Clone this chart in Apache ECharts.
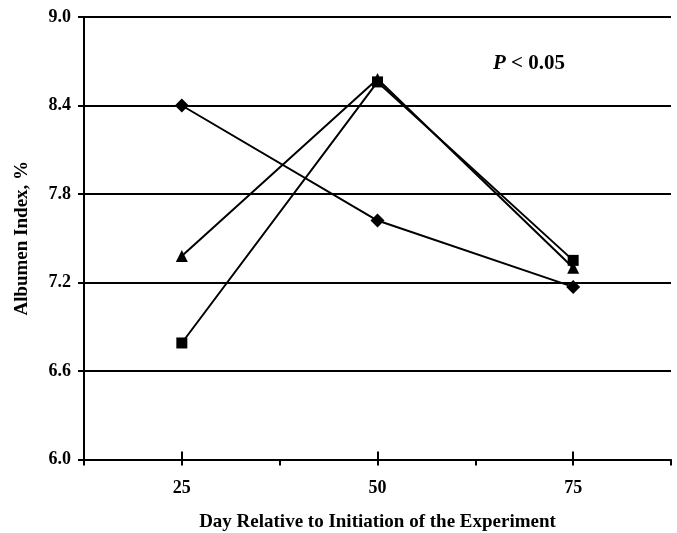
<!DOCTYPE html>
<html>
<head>
<meta charset="utf-8">
<script src="https://cdn.jsdelivr.net/npm/echarts@6/dist/echarts.min.js"></script>
<style>html,body{margin:0;padding:0;background:#fff;}#c{width:677px;height:533px;}</style>
</head>
<body>
<div id="c"></div>
<script>
const categories = ['25', '50', '75'];
const diamondValues = [8.40, 7.62, 7.17];
const squareValues = [6.79, 8.56, 7.35];
const triangleValues = [7.38, 8.58, 7.30];
const yTicks = { min: 6.0, max: 9.0, interval: 0.6 };
const xTitle = 'Day Relative to Initiation of the Experiment';
const yTitle = 'Albumen Index, %';

const FONT = '"Liberation Serif", "Times New Roman", serif';
const chart = echarts.init(document.getElementById('c'), null, { renderer: 'canvas' });

function lineSeries(name, data, symbol, size) {
  return {
    name: name, type: 'line', data: data, xAxisIndex: 0,
    symbol: symbol, symbolSize: size, showSymbol: true,
    lineStyle: { color: '#000', width: 2 },
    itemStyle: { color: '#000' },
    emphasis: { disabled: true },
    animation: false
  };
}

const option = {
  animation: false,
  grid: { left: 84, right: 6, top: 17, bottom: 73.5, containLabel: false, outerBoundsMode: 'none' },
  xAxis: [
    {
      type: 'category', data: categories, boundaryGap: true, position: 'bottom',
      axisLine: { show: true, onZero: false, lineStyle: { color: '#000', width: 2 } },
      axisTick: { show: true, length: 6, alignWithLabel: false, lineStyle: { color: '#000', width: 2 } },
      axisLabel: { margin: 20, color: '#000', fontFamily: FONT, fontWeight: 'bold', fontSize: 18 },
      splitLine: { show: false },
      name: xTitle, nameLocation: 'middle', nameGap: 53,
      nameTextStyle: { color: '#000', fontFamily: FONT, fontWeight: 'bold', fontSize: 19 }
    },
    {
      type: 'category', data: categories, boundaryGap: true, position: 'bottom',
      axisLine: { show: false },
      axisTick: { show: true, length: 6, alignWithLabel: true, inside: false, lineStyle: { color: '#000', width: 2 } },
      axisLabel: { show: false }, splitLine: { show: false }
    },
    {
      type: 'category', data: categories, boundaryGap: true, position: 'bottom',
      axisLine: { show: false },
      axisTick: { show: true, length: 8, alignWithLabel: true, inside: true, lineStyle: { color: '#000', width: 2 } },
      axisLabel: { show: false }, splitLine: { show: false }
    }
  ],
  yAxis: {
    type: 'value', min: yTicks.min, max: yTicks.max, interval: yTicks.interval,
    axisLine: { show: true, lineStyle: { color: '#000', width: 2 } },
    axisTick: { show: true, length: 6, lineStyle: { color: '#000', width: 2 } },
    axisLabel: { margin: 13, color: '#000', fontFamily: FONT, fontWeight: 'bold', fontSize: 18,
      formatter: v => v.toFixed(1) },
    splitLine: { show: true, lineStyle: { color: '#000', width: 2 } },
    name: yTitle, nameLocation: 'middle', nameGap: 52,
    nameTextStyle: { color: '#000', fontFamily: FONT, fontWeight: 'bold', fontSize: 19 }
  },
  series: [
    lineSeries('Diamond', diamondValues, 'diamond', 14),
    lineSeries('Triangle', triangleValues, 'triangle', 12),
    lineSeries('Square', squareValues, 'rect', 11)
  ],
  graphic: [
    {
      type: 'text', left: 493, top: 53, silent: true,
      style: {
        text: '{p|P} < 0.05',
        font: 'bold 21px ' + FONT,
        fill: '#000',
        rich: { p: { fontStyle: 'italic', fontWeight: 'bold', fontSize: 21, fontFamily: FONT, fill: '#000' } }
      }
    }
  ]
};
chart.setOption(option);
</script>
</body>
</html>
